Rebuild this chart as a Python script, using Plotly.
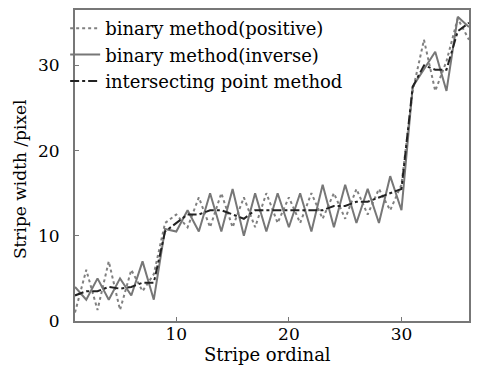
import plotly.graph_objects as go

x = list(range(1, 37))
positive = [1.0, 6.0, 1.3, 7.0, 1.3, 6.0, 3.5, 5.5, 11.5, 12.5,
            11.0, 14.5, 11.0, 15.0, 11.0, 14.5, 11.0, 15.0, 11.5, 14.5,
            11.5, 15.0, 12.0, 15.0, 12.0, 15.5, 12.5, 15.5, 13.0, 16.0,
            27.0, 33.0, 27.0, 30.5, 35.5, 33.0]
inverse = [4.0, 2.5, 5.0, 2.5, 5.0, 3.0, 7.0, 2.5, 10.8, 10.5,
           13.0, 10.5, 15.0, 10.5, 15.5, 10.0, 15.0, 10.5, 15.0, 11.0,
           15.0, 10.5, 16.0, 11.0, 16.0, 11.5, 15.5, 11.5, 17.0, 13.0,
           27.5, 29.5, 31.6, 27.0, 35.7, 34.5]
intersect = [3.0, 3.5, 3.5, 4.0, 3.8, 4.0, 4.5, 4.5, 10.5, 11.5,
             12.5, 12.5, 13.0, 13.0, 12.5, 12.0, 13.0, 13.0, 13.0, 13.0,
             13.0, 13.0, 13.0, 13.5, 13.5, 14.0, 14.0, 14.5, 15.0, 15.5,
             27.5, 30.0, 29.5, 29.5, 34.0, 35.0]
x_ticks = [10, 20, 30]
y_ticks = [0, 10, 20, 30]

fig = go.Figure()
fig.add_trace(go.Scatter(x=x, y=positive, mode="lines", name="binary method(positive)",
                         line=dict(color="#808080", width=2, dash="dot")))
fig.add_trace(go.Scatter(x=x, y=inverse, mode="lines", name="binary method(inverse)",
                         line=dict(color="#777777", width=2)))
fig.add_trace(go.Scatter(x=x, y=intersect, mode="lines", name="intersecting point method",
                         line=dict(color="#222222", width=2, dash="dashdot")))

font = "DejaVu Serif, serif"
fig.update_layout(
    width=479, height=367,
    margin=dict(l=75, r=9, t=8, b=46),
    paper_bgcolor="white", plot_bgcolor="white",
    font=dict(family=font, size=16, color="black"),
    showlegend=True,
    legend=dict(x=-0.025, y=1.0, xanchor="left", yanchor="top",
                bgcolor="rgba(0,0,0,0)", font=dict(family=font, size=18),
                tracegroupgap=0, itemwidth=30),
    annotations=[
        dict(text="Stripe ordinal", xref="paper", yref="paper", x=0.489, y=-0.109,
             xanchor="center", yanchor="middle", showarrow=False,
             font=dict(family=font, size=18)),
        dict(text="Stripe width /pixel", xref="paper", yref="paper", x=-0.139, y=0.457,
             xanchor="center", yanchor="middle", showarrow=False, textangle=-90,
             font=dict(family=font, size=17)),
    ],
)
axis_common = dict(showline=True, linecolor="#777777", linewidth=2, mirror=True,
                   ticks="inside", ticklen=4, tickcolor="#777777",
                   showgrid=False, zeroline=False,
                   tickfont=dict(family=font, size=17))
fig.update_xaxes(range=[1, 36], tickvals=x_ticks, ticklabelstandoff=-3, **axis_common)
fig.update_yaxes(range=[0, 36.5], tickvals=y_ticks, ticklabelstandoff=10, **axis_common)

fig.write_html("out.html", config={"displayModeBar": False},
               post_script="document.body.style.margin='0';document.body.style.padding='0';")
